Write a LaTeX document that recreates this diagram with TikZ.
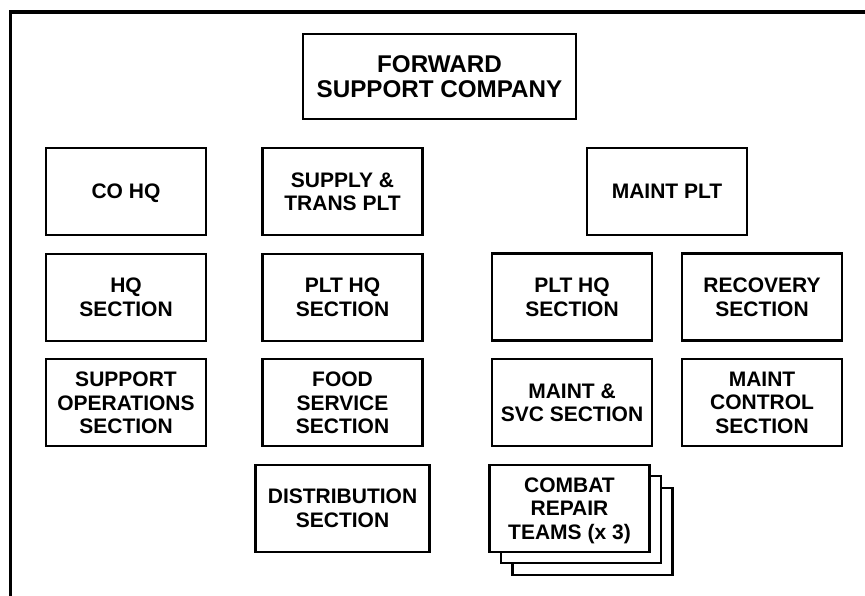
\documentclass[tikz,border=0pt]{standalone}
\usepackage{fontspec}
\setmainfont{Liberation Sans}
\usepackage{tikz}
\usetikzlibrary{positioning,shadows}

\newcommand\unitfont{\fontsize{21bp}{23.5bp}\selectfont\bfseries}
\newcommand\cofont{\fontsize{24.2bp}{24.6bp}\selectfont\bfseries}

\begin{document}
\begin{tikzpicture}[
x=1bp, y=1bp,
node distance=16.5bp,
unit/.style={draw, line width=2.1bp, fill=white, minimum width=160bp, minimum height=87bp, inner sep=2bp, text depth=0pt, align=center, font=\unitfont},
cobox/.style={unit, line width=2.9bp, minimum width=273bp, minimum height=85bp, font=\cofont},
stack/.style={copy shadow={shadow xshift=23bp, shadow yshift=-23bp, draw=black, fill=white, line width=2.1bp},
  copy shadow={shadow xshift=11.5bp, shadow yshift=-11.5bp, draw=black, fill=white, line width=2.1bp}},
frame/.style={line width=3.5bp}
]
\useasboundingbox (0,0) rectangle (865,-596);
\draw[frame] (10.7,-596) -- (10.7,-11.8) -- (865,-11.8);

\node[cobox] (fsc) at (439.5,-76.5) {FORWARD\\SUPPORT COMPANY};

% company HQ column
\node[unit] (cohq) at (126,-191.5) {CO HQ};
\node[unit, below=of cohq] (hqsec) {HQ\\SECTION};
\node[unit, below=of hqsec] (supops) {SUPPORT\\OPERATIONS\\SECTION};

% supply and transport platoon
\node[unit] (sntplt) at (342.5,-191.5) {SUPPLY \&\\TRANS PLT};
\node[unit, below=of sntplt] (snthq) {PLT HQ\\SECTION};
\node[unit, below=of snthq] (food) {FOOD\\SERVICE\\SECTION};
\node[unit, below=of food, minimum width=174bp] (dist) {DISTRIBUTION\\SECTION};

% maintenance platoon
\node[unit] (mntplt) at (667,-191.5) {MAINT PLT};
\node[unit] (mnthq) at (572,-297) {PLT HQ\\SECTION};
\node[unit] (recov) at (762,-297) {RECOVERY\\SECTION};
\node[unit, below=of mnthq] (mntsvc) {MAINT \&\\SVC SECTION};
\node[unit, below=of recov] (mntctl) {MAINT\\CONTROL\\SECTION};
\node[unit, stack, below=of mntsvc, xshift=-2.5bp] (crt) {COMBAT\\REPAIR\\TEAMS (x 3)};
\end{tikzpicture}
\end{document}
